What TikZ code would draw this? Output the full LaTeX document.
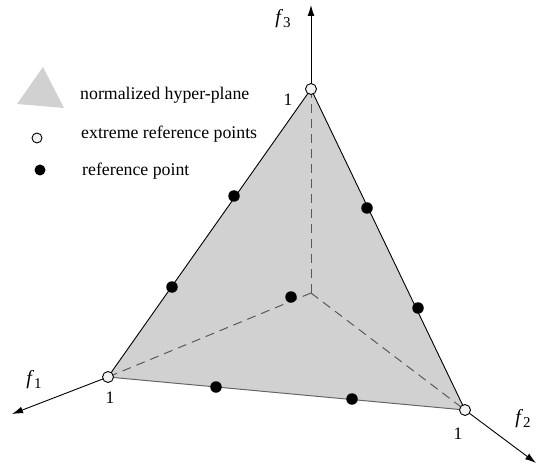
\documentclass[tikz,border=0pt]{standalone}
\usepackage{fontspec}
\setmainfont{Liberation Serif}
\usetikzlibrary{arrows.meta}
\begin{document}
\begin{tikzpicture}[x=1pt,y=-1pt,
  txt/.style={font=\fontsize{17.8}{20}\selectfont, anchor=west, inner sep=0pt},
  lab/.style={font=\fontsize{17.5}{20}\selectfont, inner sep=0pt},
  flab/.style={font=\fontsize{20}{22}\selectfont, inner sep=0pt},
  axis/.style={line width=0.9pt, -{Latex[length=11pt,width=7pt]}},
  dsh/.style={draw=black!65, line width=1pt, dash pattern=on 9pt off 6pt},
  edge/.style={draw=black, line width=0.9pt},
  openpt/.style={circle, draw=black, line width=0.9pt, fill=black!5, minimum size=11pt, inner sep=0pt},
  refpt/.style={circle, fill=black, minimum size=11.5pt, inner sep=0pt}]
\useasboundingbox (0,0) rectangle (536,468);
% coordinates
\coordinate (O) at (311,293);
\coordinate (A3) at (311,89);
\coordinate (A1) at (108,377);
\coordinate (A2) at (465,410);
\coordinate (T3) at (311,5);
\coordinate (T1) at (12,414);
\coordinate (T2) at (536,463);
% plane
\fill[black!18] (A1) -- (A3) -- (A2) -- cycle;
\draw[edge] (A1) -- (A3) -- (A2);
\draw[draw=black!60, line width=1pt] (A1) -- (A2);
\draw[dsh] (O) -- (A3);
\draw[dsh] (O) -- (A1);
\draw[dsh] (O) -- (A2);
% axes
\draw[axis] (A3) -- (T3);
\draw[axis] (A1) -- (T1);
\draw[axis] (A2) -- (T2);
% vertices
\node[openpt] (v3) at (A3) {};
\node[openpt] (v1) at (A1) {};
\node[openpt] (v2) at (A2) {};
% reference points
\node[refpt] (r1) at (234,196) {};
\node[refpt] (r2) at (172,287) {};
\node[refpt] (r3) at (367,208) {};
\node[refpt] (r4) at (418,308) {};
\node[refpt] (r5) at (216,387) {};
\node[refpt] (r6) at (352,399) {};
\node[refpt] (r7) at (291,297) {};
% labels
\node[lab] (l3) at (288,100) {1};
\node[lab] (l1) at (110,398) {1};
\node[lab] (l2) at (458,434) {1};
\node[flab] (f3) at (283,19) {\textit{f}\raisebox{-3.5pt}{\fontsize{15}{15}\selectfont 3}};
\node[flab] (f1) at (34,380) {\textit{f}\raisebox{-3.5pt}{\fontsize{15}{15}\selectfont 1}};
\node[flab] (f2) at (523,419) {\textit{f}\raisebox{-3.5pt}{\fontsize{15}{15}\selectfont 2}};
% legend
\fill[black!18] (17,104) -- (43,67) -- (64,108) -- cycle;
\node[txt] (t1) at (80,95) {normalized hyper-plane};
\node[openpt, minimum size=10pt] (lg2) at (37,138) {};
\node[txt] (t2) at (81,134) {extreme reference points};
\node[refpt, minimum size=11pt] (lg3) at (40,170) {};
\node[txt] (t3) at (82,171) {reference point};
\end{tikzpicture}
\end{document}
